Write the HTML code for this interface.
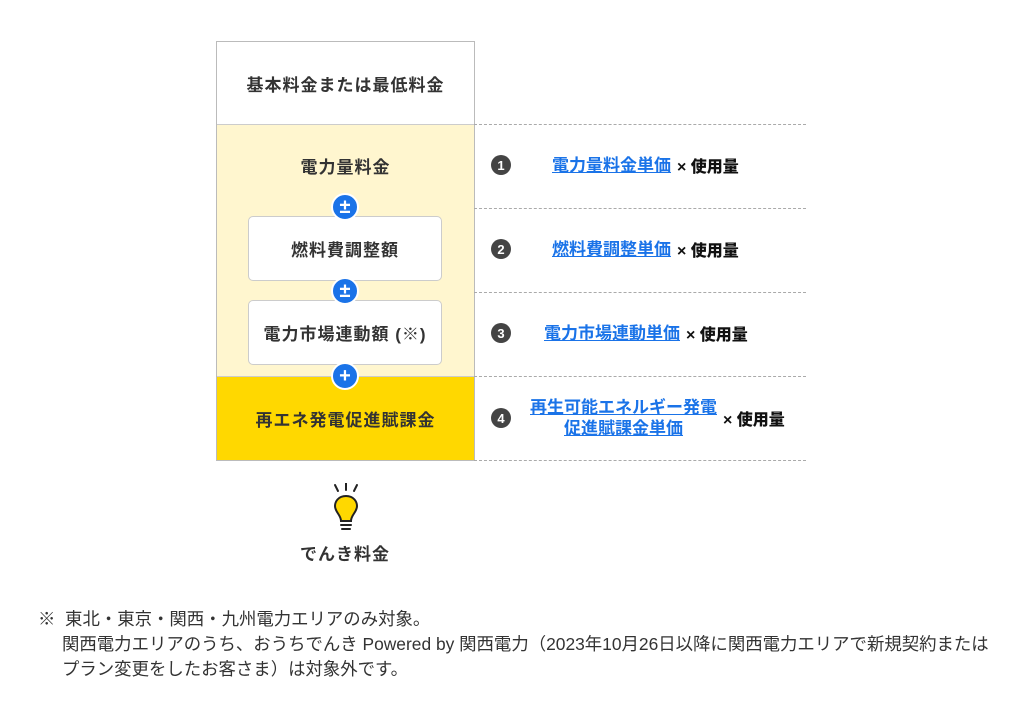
<!DOCTYPE html>
<html><head><meta charset="utf-8"><style>
*{margin:0;padding:0;box-sizing:border-box}
body{width:1024px;height:719px;background:#fff;position:relative;font-family:"Liberation Sans","Noto Sans CJK JP",sans-serif;overflow:hidden}
.a{position:absolute}
.lbl{position:absolute;display:flex;align-items:center;justify-content:center;font-weight:bold;font-size:17px;letter-spacing:1px;color:#333}
.pm{position:absolute;width:28px;height:28px;border-radius:50%;background:#1a73e8;color:#fff;font-size:20px;font-weight:bold;display:flex;align-items:center;justify-content:center;border:2px solid #fff;line-height:1}
.dash{position:absolute;left:474px;width:332px;border-top:1px dashed #aaa}
.num{position:absolute;left:491px;width:20px;height:20px;border-radius:50%;background:#444;color:#fff;font-size:13px;font-weight:bold;display:flex;align-items:center;justify-content:center}
.f{position:absolute;font-size:16px;font-weight:bold;color:#111;display:flex;align-items:center}
.f a{color:#1a73e8;text-decoration:underline;text-align:center;line-height:21px;font-size:17px}
.f b{margin-left:6px}
.note{position:absolute;font-size:17.4px;color:#333;line-height:25px;white-space:nowrap}
</style></head><body>
<div class="a" style="left:216px;top:41px;width:259px;height:420px;border:1px solid #bbb"></div>
<div class="lbl" style="left:217px;top:42px;width:257px;height:82px;">基本料金または最低料金</div>
<div class="a" style="left:217px;top:124px;width:257px;height:252px;background:#fff6cf;border-top:1px solid #ccc"></div>
<div class="a" style="left:217px;top:376px;width:257px;height:84px;background:#ffd800;border-top:1px solid #ccc"></div>
<div class="lbl" style="left:217px;top:124px;width:257px;height:82px;">電力量料金</div>
<div class="a" style="left:248px;top:216px;width:194px;height:65px;background:#fff;border:1px solid #ccc;border-radius:5px"></div>
<div class="lbl" style="left:248px;top:216px;width:194px;height:65px;">燃料費調整額</div>
<div class="a" style="left:248px;top:300px;width:194px;height:65px;background:#fff;border:1px solid #ccc;border-radius:5px"></div>
<div class="lbl" style="left:248px;top:300px;width:194px;height:65px;">電力市場連動額 (※)</div>
<div class="lbl" style="left:217px;top:376px;width:257px;height:84px;">再エネ発電促進賦課金</div>
<div class="pm" style="left:331px;top:193px">±</div>
<div class="pm" style="left:331px;top:277px">±</div>
<div class="pm" style="left:331px;top:362px">+</div>
<div class="dash" style="top:124px"></div>
<div class="dash" style="top:208px"></div>
<div class="dash" style="top:292px"></div>
<div class="dash" style="top:376px"></div>
<div class="dash" style="top:460px"></div>
<div class="num" style="top:155px">1</div>
<div class="num" style="top:239px">2</div>
<div class="num" style="top:323px">3</div>
<div class="num" style="top:408px">4</div>
<div class="f" style="left:552px;top:155px;height:20px"><a>電力量料金単価</a><b>× 使用量</b></div>
<div class="f" style="left:552px;top:239px;height:20px"><a>燃料費調整単価</a><b>× 使用量</b></div>
<div class="f" style="left:544px;top:323px;height:20px"><a>電力市場連動単価</a><b>× 使用量</b></div>
<div class="f" style="left:530px;top:397px;height:42px"><a>再生可能エネルギー発電<br>促進賦課金単価</a><b>× 使用量</b></div>
<svg class="a" style="left:330px;top:483px" width="32" height="52" viewBox="0 0 32 52">
<g stroke="#222" stroke-width="2" stroke-linecap="round" fill="none">
<line x1="5" y1="2" x2="8" y2="8"/><line x1="16" y1="0" x2="16" y2="7"/><line x1="27" y1="2" x2="24" y2="8"/>
<path d="M16 13 C8 13 5 19 5 23 C5 29 11 32 11 38 L21 38 C21 32 27 29 27 23 C27 19 24 13 16 13 Z" fill="#ffd800"/>
<line x1="11" y1="42" x2="21" y2="42"/><line x1="12" y1="46" x2="20" y2="46"/>
</g></svg>
<div class="lbl" style="left:280px;top:540px;width:130px;height:24px;">でんき料金</div>
<div class="note" style="left:38px;top:607px">※&nbsp;&nbsp;東北・東京・関西・九州電力エリアのみ対象。</div>
<div class="note" style="left:62px;top:632px">関西電力エリアのうち、おうちでんき Powered by 関西電力（2023年10月26日以降に関西電力エリアで新規契約または<br>プラン変更をしたお客さま）は対象外です。</div>
</body></html>
